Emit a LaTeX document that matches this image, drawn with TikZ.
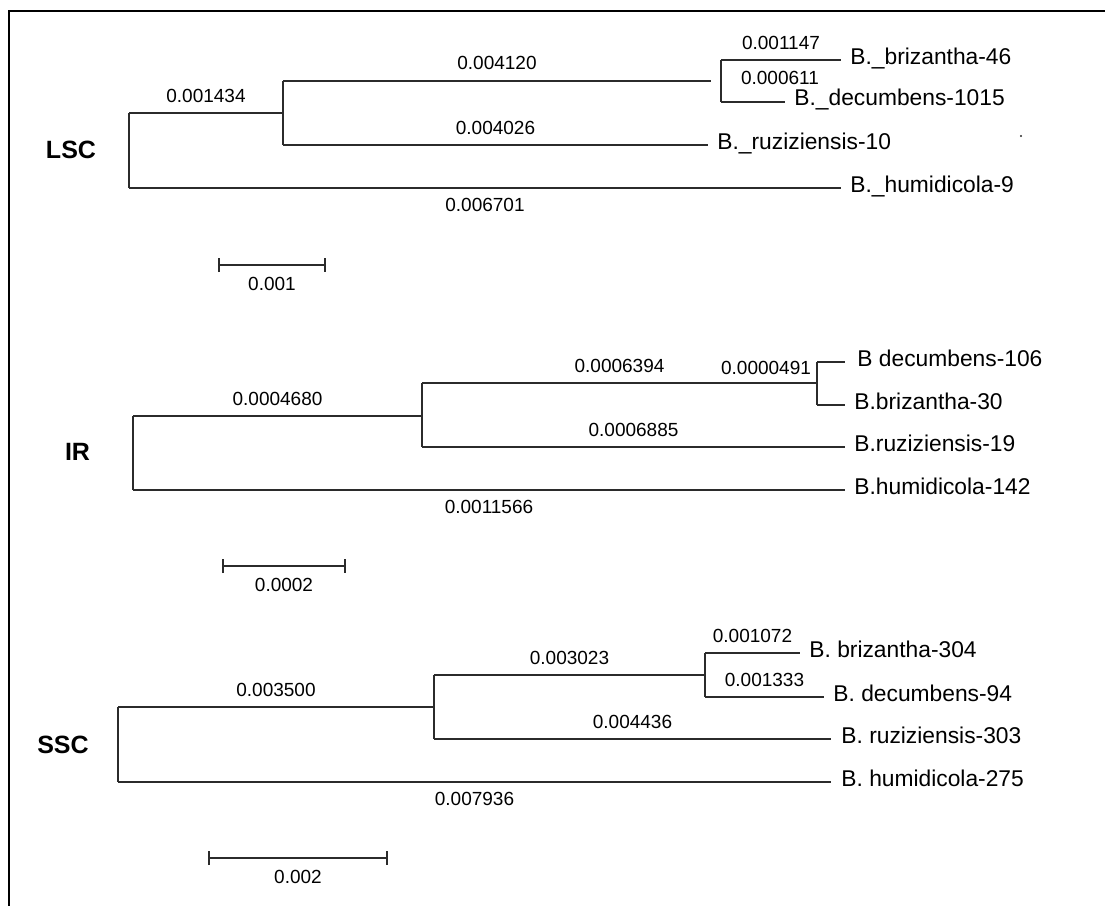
\documentclass[tikz,border=0pt]{standalone}
\usepackage{fontspec}
\usepackage{tikz}
\usetikzlibrary{positioning,arrows.meta}
\newfontfamily\arialfont{Liberation Sans}
\definecolor{branchgray}{HTML}{2B2B2B}
\tikzset{
    branch/.style={draw=branchgray, line width=0.95pt},
    frameline/.style={draw=black, line width=1.4pt},
    brlen/.style={font=\arialfont\fontsize{9.5}{11}\selectfont, inner sep=0pt},
    tip/.style={font=\arialfont\fontsize{11.4}{13}\selectfont, inner sep=0pt,
                anchor=base west},
    panelTag/.style={font=\arialfont\bfseries\fontsize{12.5}{14}\selectfont,
                     inner sep=0pt},
    scalebar/.style={draw=branchgray, line width=0.95pt,
                     {Bar[width=7pt]}-{Bar[width=7pt]}},
}

\begin{document}
\begin{tikzpicture}[x=0.5pt,y=-0.5pt]
\useasboundingbox (0,0) rectangle (1105,906);

% frame (top and left only)
\draw[frameline] (9,906) |- (1105,11);

% ---------------- LSC PANEL ----------------
\begin{scope}
  \node[panelTag] (lTag) at (71,150) {LSC};

  \coordinate (lRoot) at (129,150);
  \coordinate (lA)    at (283,113);
  \coordinate (lB)    at (711,80.7);
  \coordinate (lBv)   at (721,80.7);
  \coordinate (lBriz) at (841,60);
  \coordinate (lDec)  at (785,101.7);
  \coordinate (lRuz)  at (708,145);
  \coordinate (lHum)  at (841,188);

  % root
  \draw[branch] (lRoot |- lA) -- (lRoot |- lHum);
  \draw[branch] (lRoot |- lA) -- (lA)
    node[brlen, midway, above=4.8pt] {0.001434};
  \draw[branch] (lRoot |- lHum) -- (lHum)
    node[brlen, midway, below=4.6pt] {0.006701};
  % node A
  \draw[branch] (lA |- lB) -- (lA |- lRuz);
  \draw[branch] (lA |- lB) -- (lB)
    node[brlen, midway, above=4.8pt] {0.004120};
  \draw[branch] (lA |- lRuz) -- (lRuz)
    node[brlen, midway, above=4.8pt] {0.004026};
  % node B
  \draw[branch] (lBv |- lBriz) -- (lBv |- lDec);
  \draw[branch] (lBv |- lBriz) -- (lBriz)
    node[brlen, midway, above=4.8pt] {0.001147};
  \draw[branch] (lBv |- lDec) -- (lDec);
  \node[brlen] (lDecLen) at (780,78) {0.000611};

  \node[tip] (lBrizT) at ([xshift=4.5pt,yshift=-2pt]lBriz) {B.\_brizantha-46};
  \node[tip] (lDecT)  at ([xshift=4.5pt,yshift=-2pt]lDec)  {B.\_decumbens-1015};
  \node[tip] (lRuzT)  at ([xshift=4.5pt,yshift=-2pt]lRuz)  {B.\_ruziziensis-10};
  \node[tip] (lHumT)  at ([xshift=4.5pt,yshift=-2pt]lHum)  {B.\_humidicola-9};

  \coordinate (lSpeck) at (1021,136);
  \fill[branchgray] (lSpeck) circle (1.1);

  % scale bar
  \coordinate (lSb1) at (218,265);
  \coordinate (lSb2) at (326,265);
  \draw[scalebar] (lSb1) -- (lSb2)
    node[brlen, midway, below=5.5pt] {0.001};
\end{scope}

% ---------------- IR PANEL ----------------
\begin{scope}
  \node[panelTag] (iTag) at (77.5,452) {IR};

  \coordinate (iRoot) at (133,452);
  \coordinate (iA)    at (422,416);
  \coordinate (iB)    at (817,383);
  \coordinate (iDec)  at (845,362);
  \coordinate (iBriz) at (845,405);
  \coordinate (iRuz)  at (845,447);
  \coordinate (iHum)  at (845,490);

  % root
  \draw[branch] (iRoot |- iA) -- (iRoot |- iHum);
  \draw[branch] (iRoot |- iA) -- (iA)
    node[brlen, midway, above=4.8pt] {0.0004680};
  \draw[branch] (iRoot |- iHum) -- (iHum)
    node[brlen, midway, below=4.6pt] {0.0011566};
  % node A
  \draw[branch] (iA |- iB) -- (iA |- iRuz);
  \draw[branch] (iA |- iB) -- (iB)
    node[brlen, midway, above=4.8pt] {0.0006394};
  \draw[branch] (iA |- iRuz) -- (iRuz)
    node[brlen, midway, above=4.8pt] {0.0006885};
  \node[brlen] (iBLen) at (766,368) {0.0000491};
  % node B
  \draw[branch] (iB |- iDec) -- (iB |- iBriz);
  \draw[branch] (iB |- iDec) -- (iDec);
  \draw[branch] (iB |- iBriz) -- (iBriz);

  \node[tip] (iDecT)  at ([xshift=6pt,yshift=-2pt]iDec)    {B decumbens-106};
  \node[tip] (iBrizT) at ([xshift=4.5pt,yshift=-2pt]iBriz) {B.brizantha-30};
  \node[tip] (iRuzT)  at ([xshift=4.5pt,yshift=-2pt]iRuz)  {B.ruziziensis-19};
  \node[tip] (iHumT)  at ([xshift=4.5pt,yshift=-2pt]iHum)  {B.humidicola-142};

  % scale bar
  \coordinate (iSb1) at (222,566);
  \coordinate (iSb2) at (346,566);
  \draw[scalebar] (iSb1) -- (iSb2)
    node[brlen, midway, below=5.5pt] {0.0002};
\end{scope}

% ---------------- SSC PANEL ----------------
\begin{scope}
  \node[panelTag] (sTag) at (63,745) {SSC};

  \coordinate (sRoot) at (118,745);
  \coordinate (sA)    at (434,707);
  \coordinate (sB)    at (705,675);
  \coordinate (sBriz) at (800,653);
  \coordinate (sDec)  at (824,697);
  \coordinate (sRuz)  at (831,739);
  \coordinate (sHum)  at (831,782);

  % root
  \draw[branch] (sRoot |- sA) -- (sRoot |- sHum);
  \draw[branch] (sRoot |- sA) -- (sA)
    node[brlen, midway, above=4.8pt] {0.003500};
  \draw[branch] (sRoot |- sHum) -- (sHum)
    node[brlen, midway, below=4.6pt] {0.007936};
  % node A
  \draw[branch] (sA |- sB) -- (sA |- sRuz);
  \draw[branch] (sA |- sB) -- (sB)
    node[brlen, midway, above=4.8pt] {0.003023};
  \draw[branch] (sA |- sRuz) -- (sRuz)
    node[brlen, midway, above=4.8pt] {0.004436};
  % node B
  \draw[branch] (sB |- sBriz) -- (sB |- sDec);
  \draw[branch] (sB |- sBriz) -- (sBriz)
    node[brlen, midway, above=4.8pt] {0.001072};
  \draw[branch] (sB |- sDec) -- (sDec)
    node[brlen, midway, above=4.8pt] {0.001333};

  \node[tip] (sBrizT) at ([xshift=4.5pt,yshift=-2pt]sBriz) {B. brizantha-304};
  \node[tip] (sDecT)  at ([xshift=4.5pt,yshift=-2pt]sDec)  {B. decumbens-94};
  \node[tip] (sRuzT)  at ([xshift=5pt,yshift=-2pt]sRuz)    {B. ruziziensis-303};
  \node[tip] (sHumT)  at ([xshift=5pt,yshift=-2pt]sHum)    {B. humidicola-275};

  % scale bar
  \coordinate (sSb1) at (208,858);
  \coordinate (sSb2) at (388,858);
  \draw[scalebar] (sSb1) -- (sSb2)
    node[brlen, midway, below=5.5pt] {0.002};
\end{scope}

\end{tikzpicture}
\end{document}
